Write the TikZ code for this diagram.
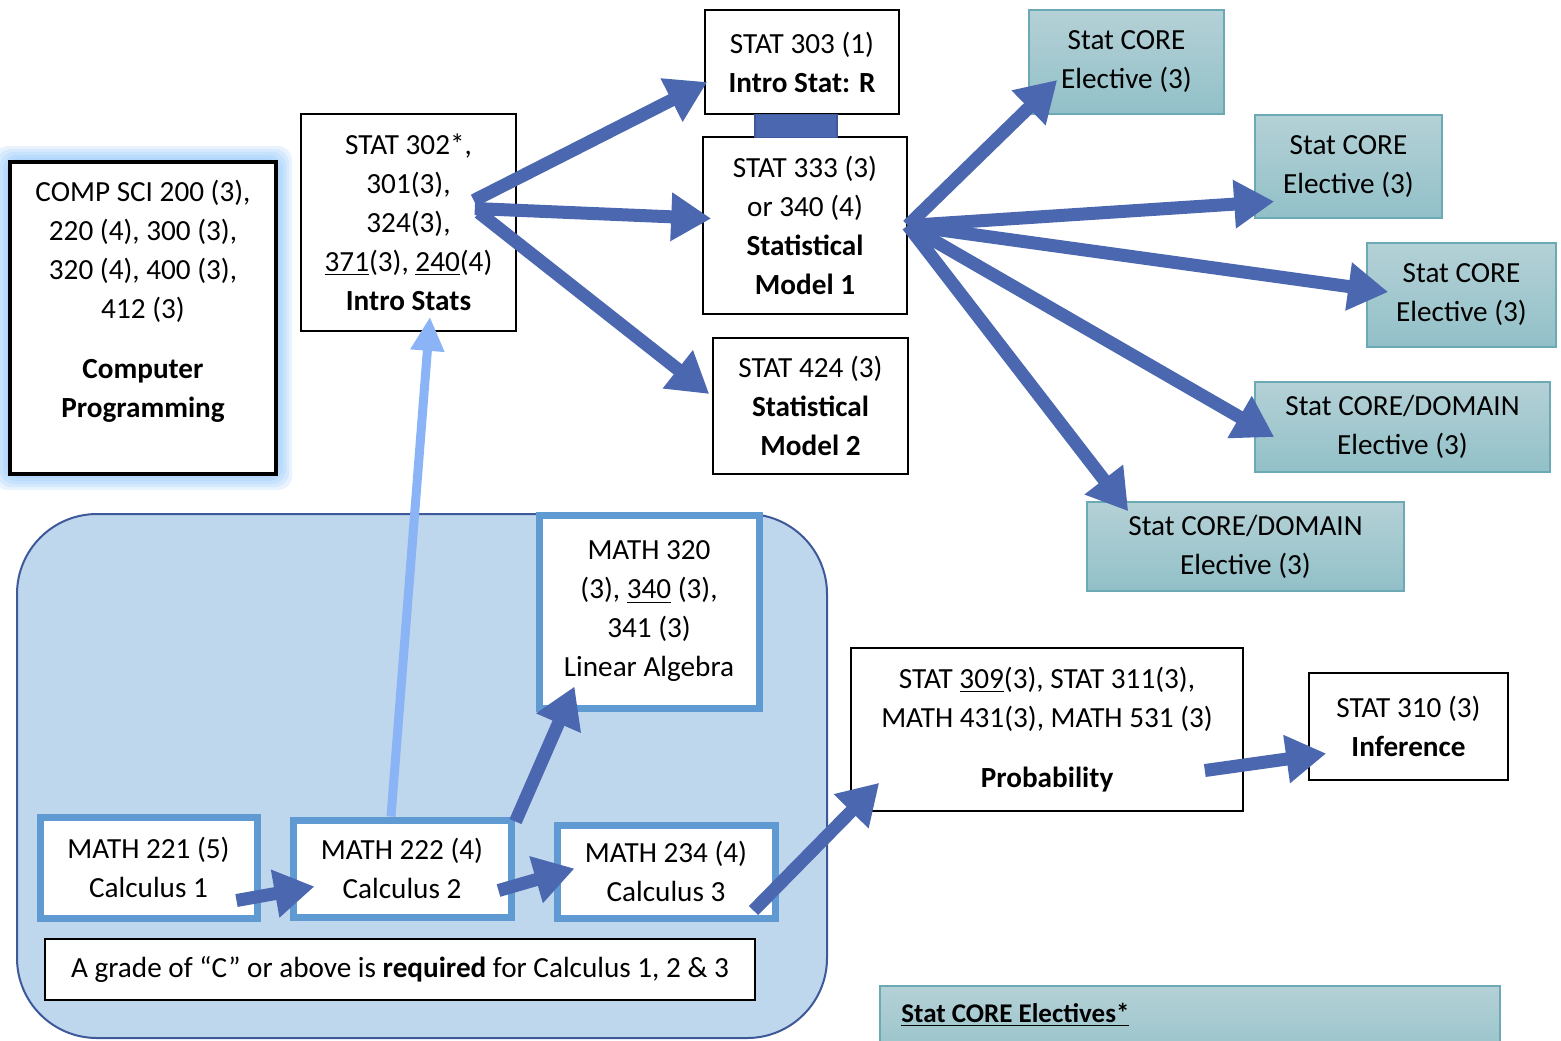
\documentclass[tikz,border=0pt]{standalone}
\usepackage{fontspec}
\setmainfont{Carlito}
\usetikzlibrary{arrows.meta}
\definecolor{arrowblue}{RGB}{74,103,176}
\definecolor{lightarrow}{RGB}{138,180,246}
\definecolor{mathedge}{RGB}{95,155,210}
\definecolor{regionfill}{RGB}{191,215,237}
\definecolor{regionedge}{RGB}{61,89,153}
\definecolor{glowblue}{RGB}{140,195,250}
\definecolor{tealtop}{RGB}{180,209,214}
\definecolor{tealbot}{RGB}{146,192,200}
\definecolor{tealedge}{RGB}{107,170,180}
\begin{document}
\begin{tikzpicture}[x=0.5pt,y=-0.5pt,
    font=\fontsize{14.6}{19.5}\selectfont,
    boxsize/.style 2 args={minimum width=#1*0.5pt, minimum height=#2*0.5pt},
    box/.style={draw, line width=0.8pt, fill=white, align=center, inner sep=0pt},
    mathbox/.style={box, draw=mathedge, line width=3.5pt},
    elective/.style={draw=tealedge, line width=0.8pt, top color=tealtop, bottom color=tealbot, align=center, inner sep=0pt},
    flow/.style={draw=arrowblue, line width=6.5pt, -{Triangle[length=20pt,width=23pt]}},
    liftflow/.style={draw=lightarrow, line width=4.5pt, -{Triangle[length=17pt,width=16pt]}}]
    \clip (0,0) rectangle (1561,1040);
    % glow round the programming box
    \foreach \g in {16,13,10,7,4,2}
    \fill[glowblue, fill opacity=0.2, rounded corners=7pt] (10-\g,162-\g) rectangle (276+\g,474+\g);
    \node[box, boxsize={266}{312}, line width=2pt] (cs) at (143,318) {COMP SCI 200 (3),\\ 220 (4), 300 (3),\\ 320 (4), 400 (3),\\ 412 (3)\\[10.5pt] \textbf{Computer}\\ \textbf{Programming}\\ \mbox{}};
    % statistics courses
    \node[box, boxsize={215}{217}] (s302) at (408.5,222.5) {STAT 302*,\\ 301(3),\\ 324(3),\\ \underline{371}(3), \underline{240}(4)\\ \textbf{Intro Stats}};
    \node[box, boxsize={194}{104}] (s303) at (802,62) {STAT 303 (1)\\ \textbf{Intro Stat: R}};
    \node[box, boxsize={204}{177}] (s333) at (805,225.5) {STAT 333 (3)\\ or 340 (4)\\ \textbf{Statistical}\\ \textbf{Model 1}};
    \node[box, boxsize={195}{136}] (s424) at (810.5,406) {STAT 424 (3)\\ \textbf{Statistical}\\ \textbf{Model 2}};
    \fill[arrowblue, draw=regionedge, line width=0.6pt] (s303.south) ++(-47,0) rectangle ++(82,23);
    % electives
    \node[elective, boxsize={195}{104}] (e1) at (1126.5,62) {Stat CORE\\ Elective (3)};
    \node[elective, boxsize={187}{103}] (e2) at (1348.5,166.5) {Stat CORE\\ Elective (3)};
    \node[elective, boxsize={189}{104}] (e3) at (1461.5,295) {Stat CORE\\ Elective (3)};
    \node[elective, boxsize={295}{90}] (e4) at (1402.5,427) {Stat CORE/DOMAIN\\ Elective (3)};
    \node[elective, boxsize={317}{89}] (e5) at (1245.5,546.5) {Stat CORE/DOMAIN\\ Elective (3)};
    \draw[draw=tealedge, line width=0.8pt, top color=tealtop, bottom color=tealbot] (880,986) rectangle (1500,1070);
    \node[anchor=base west, inner sep=0pt, font=\fontsize{13.5}{16}\selectfont\bfseries] (core) at (901,1022) {\underline{Stat CORE Electives*}};
    % mathematics region
    \draw[fill=regionfill, draw=regionedge, line width=1pt, rounded corners=40pt] (17,514) rectangle (827,1038);
    \node[mathbox, boxsize={220}{193}] (m320) at (649,611.5) {MATH 320\\ (3), \underline{340} (3),\\ 341 (3)\\ Linear Algebra};
    \node[mathbox, boxsize={217}{101}] (m221) at (148.5,867.5) {MATH 221 (5)\\ Calculus 1};
    \node[mathbox, boxsize={218}{97}] (m222) at (402,868.5) {MATH 222 (4)\\ Calculus 2};
    \node[mathbox, boxsize={218}{93}] (m234) at (666,871.5) {MATH 234 (4)\\ Calculus 3};
    \node[box, boxsize={710}{61}] (grade) at (400,969.5) {A grade of “C” or above is \textbf{required} for Calculus 1, 2 \& 3};
    \node[box, boxsize={392}{163}] (prob) at (1047,729.5) {STAT \underline{309}(3), STAT 311(3),\\ MATH 431(3), MATH 531 (3)\\[10.5pt] \textbf{Probability}};
    \node[box, boxsize={199}{107}] (s310) at (1408.5,726.5) {STAT 310 (3)\\ \textbf{Inference}};
    % prerequisite arrows
    \draw[flow] ([shift={(-43,-22)}]s302.east) -- ([shift={(3,20)}]s303.west);
    \draw[flow] ([shift={(-42,-14)}]s302.east) -- ([shift={(9,-7)}]s333.west);
    \draw[flow] ([shift={(-38,-10)}]s302.east) -- ([shift={(-3,-12)}]s424.west);
    \draw[flow] (s333.east) -- ([shift={(29,18)}]e1.west);
    \draw[flow] (s333.east) -- ([shift={(20,35)}]e2.west);
    \draw[flow] (s333.east) -- ([shift={(22,-3)}]e3.west);
    \draw[flow] (s333.east) -- ([shift={(20,10)}]e4.west);
    \draw[flow] (s333.east) -- ([shift={(42,10)}]e5.north west);
    \draw[liftflow] ([shift={(-11,0)}]m222.north) -- ([shift={(21.5,-15)}]s302.south);
    \draw[flow] ([shift={(-24,33)}]m221.east) -- ([shift={(25,18)}]m222.west);
    \draw[flow] ([shift={(-16,22)}]m222.east) -- ([shift={(21,-3)}]m234.west);
    \draw[flow] ([shift={(1,5)}]m222.north east) -- ([shift={(39,-25)}]m320.south west);
    \draw[flow] ([shift={(-25,-11)}]m234.south east) -- ([shift={(29,-29)}]prob.south west);
    \draw[flow] ([shift={(-39,41)}]prob.east) -- ([shift={(18,27)}]s310.west);
\end{tikzpicture}
\end{document}
